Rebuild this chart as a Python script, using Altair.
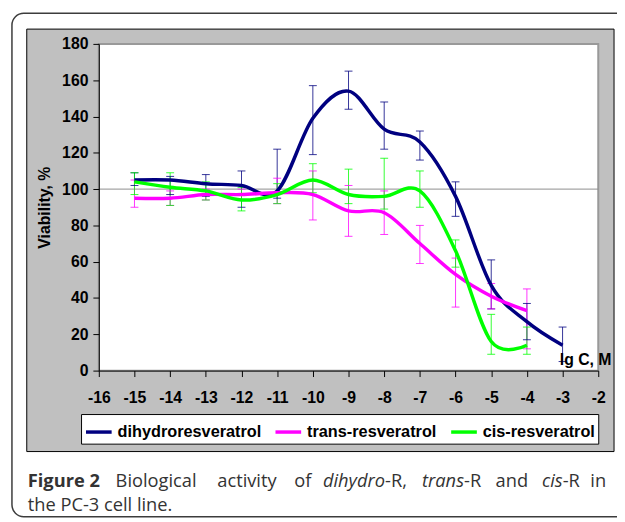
import altair as alt
import pandas as pd

# ---------------- data ----------------
series_names = ["dihydroresveratrol", "trans-resveratrol", "cis-resveratrol"]
series_colors = ["#000080", "#FF00FF", "#00FF00"]

x_dihydro = [-15, -14, -13, -12, -11, -10, -9, -8, -7, -6, -5, -4, -3]
v_dihydro = [105, 105, 103, 102, 99, 139, 154, 133, 126, 96, 47, 27, 14]
lo_dihydro = [102, 97, 96, 90, 95, 119, 144, 122, 116, 85, 34, 17, 5]
hi_dihydro = [109, 107, 108, 110, 122, 157, 165, 148, 132, 104, 61, 37, 24]

x_trans = [-15, -14, -13, -12, -11, -10, -9, -8, -7, -6, -5, -4]
v_trans = [95, 95, 97, 97, 98, 97, 88, 87, 70, 53, 41, 33]
lo_trans = [90, 91, 94, 94, 92, 83, 74, 75, 59, 35, 34, 12]
hi_trans = [105, 99, 100, 100, 106, 110, 102, 99, 80, 62, 48, 45]

x_cis = [-15, -14, -13, -12, -11, -10, -9, -8, -7, -6, -5, -4]
v_cis = [104, 101, 99, 94, 97, 105, 97, 96, 99, 66, 16, 14]
lo_cis = [97, 91, 94, 88, 92, 98, 92, 89, 90, 57, 9, 9]
hi_cis = [109, 109, 104, 101, 103, 114, 111, 117, 110, 72, 31, 24]

x_ticks = list(range(-16, -1))
y_ticks = list(range(0, 181, 20))
ref_value = [100]

y_title = "Viability, %"
x_label_text = "lg C, M"
# (text, weight, style, page x anchor, align)
caption_line1 = [
    ("Figure 2", "bold", "normal", 28, "left"),
    ("Biological", "normal", "normal", 117, "left"),
    ("activity", "normal", "normal", 220, "left"),
    ("of", "normal", "normal", 298, "left"),
    ("dihydro", "normal", "italic", 390, "right"),
    ("-R,", "normal", "normal", 390, "left"),
    ("trans", "normal", "italic", 470, "right"),
    ("-R", "normal", "normal", 470, "left"),
    ("and", "normal", "normal", 502, "left"),
    ("cis", "normal", "italic", 570, "right"),
    ("-R", "normal", "normal", 570, "left"),
    ("in", "normal", "normal", 598, "left"),
]
caption_line2 = "the PC-3 cell line."

# ---------------- layout (pixels) ----------------
W, H = 506, 331
PAD = {"left": 92, "top": 33, "right": 19, "bottom": 150}

rows = []
for name, xs, vs, los, his in [
    (series_names[0], x_dihydro, v_dihydro, lo_dihydro, hi_dihydro),
    (series_names[1], x_trans, v_trans, lo_trans, hi_trans),
    (series_names[2], x_cis, v_cis, lo_cis, hi_cis),
]:
    for i in range(len(xs)):
        rows.append({"series": name, "x": xs[i], "v": vs[i], "lo": los[i], "hi": his[i]})
df = pd.DataFrame(rows)
one = pd.DataFrame({"a": [0]})

FONT = "Liberation Sans"
CAP_FONT = "Open Sans"
CAP_SIZE = 18.5

xscale = alt.Scale(domain=[-16, -2], nice=False, zero=False)
yscale = alt.Scale(domain=[0, 180], nice=False, zero=False)
xaxis = alt.Axis(values=x_ticks, title=None, grid=False, tickSize=6, labelPadding=13,
                 labelFont=FONT, labelFontSize=16, labelFontWeight="bold", labelColor="black",
                 domainColor="black", tickColor="black", zindex=1, labelFlush=False,
                 labelOverlap=False, labelExpr="toString(datum.value)")
yaxis = alt.Axis(values=y_ticks, title=y_title, grid=False, tickSize=6, labelPadding=5,
                 labelFont=FONT, labelFontSize=16, labelFontWeight="bold", labelColor="black",
                 titleFont=FONT, titleFontSize=16, titleFontWeight="bold", titleColor="black",
                 titlePadding=9, domainColor="black", tickColor="black", zindex=1,
                 labelOverlap=False, labelExpr="toString(datum.value)")

color = alt.Color(
    "series:N",
    scale=alt.Scale(domain=series_names, range=series_colors),
    legend=alt.Legend(
        title=None, orient="none", legendX=-18, legendY=375, direction="horizontal",
        symbolType="stroke", symbolSize=676, symbolStrokeWidth=3.5,
        labelFont=FONT, labelFontSize=16.5, labelFontWeight="bold", labelColor="black",
        labelOffset=4, columnPadding=7, padding=3, fillColor="white", strokeColor="black",
        labelLimit=400, symbolOpacity=1,
    ),
    sort=series_names,
)


def X(field="x"):
    return alt.X(f"{field}:Q", scale=xscale, axis=xaxis)


def Y(field):
    return alt.Y(f"{field}:Q", scale=yscale, axis=yaxis)


# ---------------- decorations ----------------
frame = alt.Chart(one).mark_rect(fillOpacity=0, stroke="#3c3c3c", strokeWidth=1.5,
                                 cornerRadius=12).encode(
    x=alt.value(-88), x2=alt.value(640), y=alt.value(-31), y2=alt.value(479))
gray_bg = alt.Chart(one).mark_rect(fill="#C0C0C0", stroke="black", strokeWidth=1).encode(
    x=alt.value(-73), x2=alt.value(522), y=alt.value(-15), y2=alt.value(413))
plot_bg = alt.Chart(one).mark_rect(fill="white", stroke="#999999", strokeWidth=2).encode(
    x=alt.value(0), x2=alt.value(W), y=alt.value(0), y2=alt.value(H))

ref_df = pd.DataFrame({"r": ref_value})
ref_rule = alt.Chart(ref_df).mark_rule(color="#8c8c8c", strokeWidth=1).encode(
    y=alt.Y("r:Q", scale=yscale, axis=yaxis))

# ---------------- data marks ----------------
base = alt.Chart(df)
err = base.mark_rule(strokeWidth=1, opacity=0.8).encode(
    x=X(), y=Y("lo"), y2="hi:Q", color=color)
cap_lo = base.mark_rule(strokeWidth=1, opacity=0.8, xOffset=-4, x2Offset=4).encode(
    x=X(), x2="x:Q", y=Y("lo"), color=color)
cap_hi = base.mark_rule(strokeWidth=1, opacity=0.8, xOffset=-4, x2Offset=4).encode(
    x=X(), x2="x:Q", y=Y("hi"), color=color)
lines = base.mark_line(interpolate="cardinal", strokeWidth=3.5).encode(
    x=X(), y=Y("v"), color=color, detail="series:N")

lgc = alt.Chart(one).mark_text(font=FONT, fontSize=16, fontWeight="bold", color="black",
                               align="left", baseline="middle").encode(
    x=alt.value(467), y=alt.value(320), text=alt.value(x_label_text))

caption_layers = []
for txt, wt, st, px, al in caption_line1:
    caption_layers.append(
        alt.Chart(one).mark_text(font=CAP_FONT, fontSize=CAP_SIZE, fontWeight=wt, fontStyle=st,
                                 color="#333333", align=al, baseline="alphabetic").encode(
            x=alt.value(px - 100), y=alt.value(449), text=alt.value(txt)))
caption_layers.append(
    alt.Chart(one).mark_text(font=CAP_FONT, fontSize=CAP_SIZE, color="#333333",
                             align="left", baseline="alphabetic").encode(
        x=alt.value(28 - 100), y=alt.value(473), text=alt.value(caption_line2)))

chart = alt.layer(
    frame, gray_bg, plot_bg, ref_rule, err, cap_lo, cap_hi, lines, lgc, *caption_layers
).properties(
    width=W, height=H, padding=PAD,
    autosize=alt.AutoSizeParams(type="none"),
    background="white",
).configure_view(stroke=None)

chart.save("out.html", embed_options={"renderer": "svg", "actions": False})
